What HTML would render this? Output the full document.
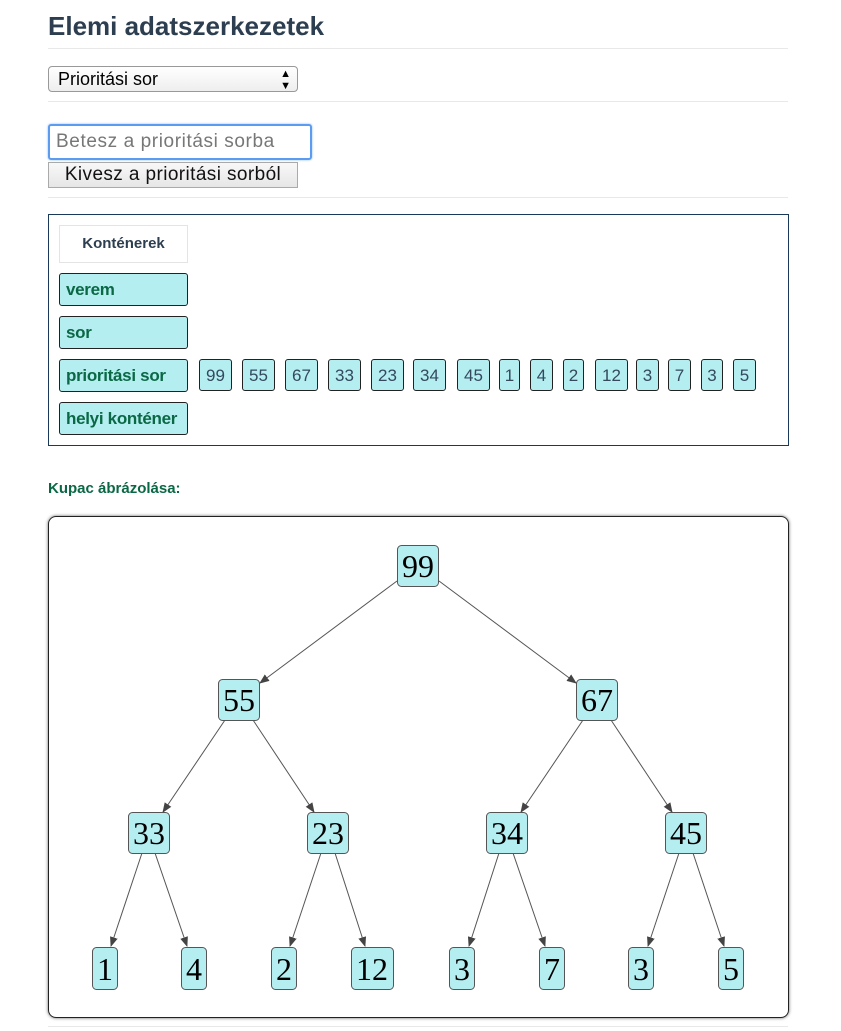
<!DOCTYPE html>
<html><head><meta charset="utf-8"><style>
body{margin:0;width:841px;height:1031px;background:#fff;font-family:"Liberation Sans",sans-serif;position:relative;overflow:hidden}
.a{position:absolute}
.hr{position:absolute;left:48px;width:740px;height:1px;background:#e8e8e8}
.g{position:absolute;background:#b4eef1;border:1px solid #222;border-radius:3px;box-sizing:border-box;color:#0b6845;font-weight:bold;font-size:17px;line-height:31px;padding-left:6px;letter-spacing:-0.3px}
.n{position:absolute;top:359px;height:32px;background:#b4eef1;border:1px solid #222;border-radius:3px;box-sizing:border-box;color:#34495e;font-size:17px;line-height:32px;text-align:center}
</style></head><body>
<div class="a" style="left:48px;top:11px;font-size:26px;font-weight:bold;color:#2c3e50">Elemi adatszerkezetek</div>
<div class="hr" style="top:48px"></div>
<div class="a" style="left:48px;top:66px;width:250px;height:26px;box-sizing:border-box;border:1px solid #999;border-radius:4px;background:linear-gradient(#fff,#eee);font-size:18px;line-height:24px;padding-left:9px">Prioritási sor<span style="position:absolute;right:6px;font-size:11px;line-height:12px;top:1px">▲<br>▼</span></div>
<div class="hr" style="top:101px"></div>
<div class="a" style="left:48px;top:124px;width:264px;height:36px;box-sizing:border-box;border:2px solid #5b9bf0;border-radius:3px;box-shadow:0 0 2px #8bb8f5;font-size:19px;letter-spacing:0.6px;line-height:32px;padding-left:6px;color:#777">Betesz a prioritási sorba</div>
<div class="a" style="left:48px;top:162px;width:250px;height:26px;box-sizing:border-box;border:1px solid #aaa;background:linear-gradient(#f8f8f8,#e6e6e6);font-size:19px;letter-spacing:0.4px;line-height:24px;text-align:center;color:#111">Kivesz a prioritási sorból</div>
<div class="hr" style="top:197px"></div>
<div class="a" style="left:48px;top:214px;width:741px;height:232px;box-sizing:border-box;border:1px solid #1b3a5a"></div>
<div class="a" style="left:59px;top:225px;width:129px;height:38px;box-sizing:border-box;border:1px solid #e4e4e4;font-size:15px;font-weight:bold;color:#2c3e50;line-height:36px;text-align:center">Konténerek</div>
<div class="g" style="left:59px;top:273px;width:129px;height:33px">verem</div>
<div class="g" style="left:59px;top:316px;width:129px;height:33px">sor</div>
<div class="g" style="left:59px;top:359px;width:129px;height:33px">prioritási sor</div>
<div class="g" style="left:59px;top:402px;width:129px;height:33px">helyi konténer</div>
<div class="n" style="left:199px;width:33px">99</div>
<div class="n" style="left:242px;width:33px">55</div>
<div class="n" style="left:285px;width:33px">67</div>
<div class="n" style="left:328px;width:33px">33</div>
<div class="n" style="left:371px;width:33px">23</div>
<div class="n" style="left:413px;width:33px">34</div>
<div class="n" style="left:457px;width:33px">45</div>
<div class="n" style="left:499px;width:21px">1</div>
<div class="n" style="left:530px;width:23px">4</div>
<div class="n" style="left:563px;width:21px">2</div>
<div class="n" style="left:595px;width:33px">12</div>
<div class="n" style="left:636px;width:23px">3</div>
<div class="n" style="left:668px;width:23px">7</div>
<div class="n" style="left:701px;width:22px">3</div>
<div class="n" style="left:733px;width:23px">5</div>
<div class="a" style="left:48px;top:480px;font-size:15px;font-weight:bold;color:#0b6845">Kupac ábrázolása:</div>
<div class="a" style="left:48px;top:516px;width:741px;height:502px;box-sizing:border-box;border:1px solid #222;border-radius:8px;box-shadow:0 0 3px #666"></div>
<div class="hr" style="top:1026px"></div>
<svg class="a" style="left:0;top:0" width="841" height="1031">
<defs><marker id="m" markerWidth="10" markerHeight="8" refX="9" refY="4" orient="auto" markerUnits="userSpaceOnUse"><path d="M0,0L10,4L0,8z" fill="#444"/></marker></defs>
<g stroke="#555" stroke-width="1" marker-end="url(#m)">
<line x1="397" y1="581" x2="260" y2="683"/>
<line x1="439" y1="581" x2="576" y2="683"/>
<line x1="225" y1="720" x2="163" y2="812"/>
<line x1="253" y1="720" x2="314" y2="812"/>
<line x1="583" y1="720" x2="521" y2="812"/>
<line x1="611" y1="720" x2="672" y2="812"/>
<line x1="142" y1="853" x2="111" y2="946"/>
<line x1="155" y1="853" x2="187" y2="946"/>
<line x1="321" y1="853" x2="290" y2="946"/>
<line x1="335" y1="853" x2="365" y2="946"/>
<line x1="499" y1="853" x2="469" y2="946"/>
<line x1="513" y1="853" x2="545" y2="946"/>
<line x1="679" y1="853" x2="648" y2="946"/>
<line x1="693" y1="853" x2="724" y2="946"/>
</g>
<g fill="#b4eef1" stroke="#555" stroke-width="1">
<rect x="397.5" y="545.5" width="41" height="41" rx="4"/>
<rect x="218.5" y="679.5" width="41" height="41" rx="4"/>
<rect x="576.5" y="679.5" width="41" height="41" rx="4"/>
<rect x="128.5" y="812.5" width="41" height="41" rx="4"/>
<rect x="307.5" y="812.5" width="41" height="41" rx="4"/>
<rect x="486.5" y="812.5" width="41" height="41" rx="4"/>
<rect x="665.5" y="812.5" width="41" height="41" rx="4"/>
<rect x="92.5" y="947.5" width="25" height="42" rx="4"/>
<rect x="181.5" y="947.5" width="25" height="42" rx="4"/>
<rect x="271.5" y="947.5" width="25" height="42" rx="4"/>
<rect x="351.5" y="947.5" width="42" height="42" rx="4"/>
<rect x="449.5" y="947.5" width="25" height="42" rx="4"/>
<rect x="539.5" y="947.5" width="25" height="42" rx="4"/>
<rect x="628.5" y="947.5" width="25" height="42" rx="4"/>
<rect x="718.5" y="947.5" width="25" height="42" rx="4"/>
</g>
<g font-family="Liberation Serif,serif" font-size="32" text-anchor="middle" fill="#000">
<text x="418" y="577">99</text>
<text x="239" y="711">55</text>
<text x="597" y="711">67</text>
<text x="149" y="844">33</text>
<text x="328" y="844">23</text>
<text x="507" y="844">34</text>
<text x="686" y="844">45</text>
<text x="105" y="980">1</text>
<text x="194" y="980">4</text>
<text x="284" y="980">2</text>
<text x="372" y="980">12</text>
<text x="462" y="980">3</text>
<text x="552" y="980">7</text>
<text x="641" y="980">3</text>
<text x="731" y="980">5</text>
</g>
</svg>
</body></html>
